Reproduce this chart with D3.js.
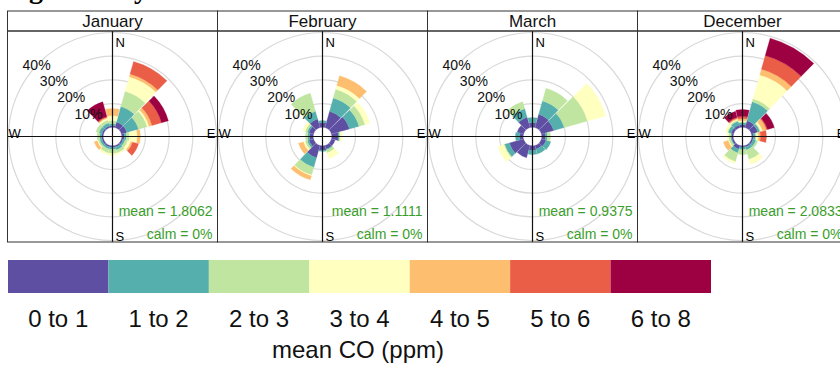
<!DOCTYPE html>
<html>
<head>
<meta charset="utf-8">
<script src="https://cdn.jsdelivr.net/npm/d3@7"></script>
<style>
  body { margin: 0; background: white; }
  text { font-family: "Liberation Sans", Arial, sans-serif; }
</style>
</head>
<body>
<script>
// data, % of hours per direction and CO band
const months = ["January", "February", "March", "December"];
const means = ["1.8062", "1.1111", "0.9375", "2.0833"];
const calms = ["0%", "0%", "0%", "0%"];
const directions = [0, 30, 60, 90, 120, 150, 180, 210, 240, 270, 300, 330];
const coBins = ["0 to 1", "1 to 2", "2 to 3", "3 to 4", "4 to 5", "5 to 6", "6 to 8"];
const gridPct = [10, 20, 30, 40];

const janValues = [
    [0.7, 0.9, 1.2, 2.1, 3.0, 0, 0],
    [2.4, 6.8, 6.7, 6.4, 1.2, 5.5, 0],
    [2.4, 5.1, 3.8, 0.8, 1.3, 4.2, 3.0],
    [1.1, 0.9, 1.3, 3.3, 1.3, 0, 0],
    [0.7, 0.9, 1.2, 1.3, 0.8, 2.6, 0],
    [0.7, 1.3, 1.3, 0.4, 0, 0, 0],
    [0.7, 0.9, 1.7, 0.8, 0, 0, 0],
    [0.7, 0.9, 1.7, 0.8, 0, 0, 0],
    [0.7, 0.9, 0.8, 0.4, 1.3, 0, 0],
    [0.7, 0.9, 1.0, 0, 0, 0, 0],
    [0.7, 1.3, 1.3, 0, 0, 0, 0],
    [0.7, 1.3, 1.3, 0.8, 0.4, 0.4, 6.4]
];
const febValues = [
    [2.0, 0.8, 0, 0, 0, 0, 0],
    [7.1, 5.9, 3.8, 1.7, 4.2, 0, 0],
    [7.9, 4.2, 2.6, 2.1, 0, 0, 0],
    [2.8, 0.5, 0.4, 0.8, 0, 0, 0],
    [1.6, 0, 0, 0, 0, 0, 0],
    [1.6, 0.4, 1.3, 2.5, 0, 0, 0],
    [2.0, 0.4, 0, 0, 0, 0, 0],
    [5.4, 4.2, 3.4, 0.4, 1.7, 0, 0],
    [2.0, 0.8, 0.9, 0.8, 2.1, 0, 0],
    [1.6, 0.8, 0.9, 0, 0, 0, 0],
    [2.0, 0.8, 0.9, 1.2, 0, 0, 0],
    [3.7, 3.4, 8.0, 0, 0, 0, 0]
];
const marValues = [
    [2.0, 2.1, 0, 0, 0, 0, 0],
    [5.8, 5.9, 5.5, 0, 0, 0, 0],
    [5.4, 4.6, 10.2, 8.0, 0, 0, 0],
    [1.6, 0.8, 1.3, 0, 0, 0, 0],
    [2.0, 2.1, 0, 0, 0, 0, 0],
    [1.6, 2.1, 0, 0, 0, 0, 0],
    [2.0, 1.7, 0, 0, 0, 0, 0],
    [5.4, 0, 0, 0, 0, 0, 0],
    [6.2, 2.1, 0.4, 2.6, 0, 0, 0],
    [1.6, 1.7, 0, 0, 0, 0, 0],
    [2.8, 0, 0, 0, 0, 0, 0],
    [4.5, 3.8, 3.0, 0, 0, 0, 0]
];
const decValues = [
    [1.1, 0.9, 0.4, 0.4, 0.9, 0.9, 2.9],
    [3.0, 8.3, 1.3, 10.5, 2.5, 6.0, 7.6],
    [2.8, 0.9, 0.4, 0.8, 1.7, 0.5, 2.9],
    [0.7, 0.9, 0.4, 0.8, 0.9, 2.5, 0],
    [0.7, 1.3, 0.8, 0, 0, 0, 0],
    [0.7, 1.3, 4.2, 2.1, 0, 0, 0],
    [0.5, 1.1, 2.1, 0, 0, 0, 0],
    [1.6, 1.7, 3.8, 0.8, 0, 0, 0],
    [0.7, 0.4, 0.9, 0.4, 2.1, 0, 0],
    [0.7, 0.4, 0.9, 0.8, 0, 0, 0],
    [1.1, 1.3, 0.4, 0.9, 0, 0, 0],
    [1.1, 1.7, 0.5, 0.4, 0.4, 0.4, 2.6]
];
const monthValues = [janValues, febValues, marValues, decValues];

const binColors = ["#5E4FA2", "#55AFAD", "#BFE5A0", "#FFFFBF", "#FDBF6F", "#EA5D47", "#9E0142"];

const width = 840, height = 365;
const svg = d3.select("body").append("svg").attr("width", width).attr("height", height);

const color = d3.scaleOrdinal().domain(coBins).range(binColors);
const r = d3.scaleLinear().domain([0, 40]).range([9.3, 104]);
const rad = deg => deg * Math.PI / 180;
const half = 14.3;
const arc = d3.arc();
const stack = d3.stack().keys(d3.range(coBins.length));

// title, only its descenders are inside the picture
svg.append("text")
    .attr("y", -2)
    .style("font-family", "'Liberation Serif', serif")
    .style("font-weight", "bold")
    .style("font-size", "28px")
    .call(t => {
        t.append("tspan").attr("x", 29).text("g");
        t.append("tspan").attr("x", 134).text("y");
        t.append("tspan").attr("x", 769).text("2");
    });

const pw = 210, ph = 211, panelTop = 31, stripH = 20;

monthValues.forEach((vals, i) => {
    const x0 = 7.5 + i * pw;
    const cx = x0 + pw / 2, cy = panelTop + ph / 2;
    const g = svg.append("g");

    // strip
    g.append("rect").attr("x", x0).attr("y", panelTop - stripH).attr("width", pw).attr("height", stripH)
        .attr("fill", "white").attr("stroke", "#333");
    g.append("text").attr("x", cx).attr("y", panelTop - 4).attr("text-anchor", "middle")
        .style("font-size", "17px").attr("fill", "#111").text(months[i]);

    g.append("clipPath").attr("id", "clip" + i)
        .append("rect").attr("x", x0).attr("y", panelTop).attr("width", pw).attr("height", ph);

    const body = g.append("g").attr("clip-path", "url(#clip" + i + ")");
    const c = body.append("g").attr("transform", 'translate(' + cx + ', ' + cy + ')');

    c.selectAll("circle")
        .data(gridPct)
        .join("circle")
        .attr("r", d => r(d))
        .attr("fill", "none")
        .attr("stroke", "#d9d9d9")
        .attr("stroke-width", 1.2);

    const rows = vals.map((v, j) => Object.assign({ dir: directions[j] }, v));
    const series = stack(rows);
    series.forEach(s => {
        c.append("g").selectAll("path")
            .data(s.filter(d => d[1] - d[0] > 0))
            .join("path")
            .attr("d", d => arc({
                innerRadius: r(d[0]),
                outerRadius: r(d[1]),
                startAngle: rad(d.data.dir - half),
                endAngle: rad(d.data.dir + half)
            }))
            .attr("fill", color(coBins[s.key]))
            .attr("stroke", color(coBins[s.key]))
            .attr("stroke-width", 0.3);
    });

    // axis cross
    c.append("line").attr("x1", -pw / 2).attr("x2", pw / 2).attr("y1", 0).attr("y2", 0)
        .attr("stroke", "#111").attr("stroke-width", 1.2);
    c.append("line").attr("x1", 0).attr("x2", 0).attr("y1", -ph / 2).attr("y2", ph / 2)
        .attr("stroke", "#111").attr("stroke-width", 1.2);

    c.append("text").attr("x", 3).attr("y", -ph / 2 + 16).style("font-size", "13px").text("N");
    c.append("text").attr("x", 3).attr("y", ph / 2 - 1).style("font-size", "13px").text("S");
    c.append("text").attr("x", -pw / 2 + 1).attr("y", 1).style("font-size", "13px").text("W");
    c.append("text").attr("x", pw / 2 - 2).attr("y", 1).attr("text-anchor", "end")
        .style("font-size", "13px").text("E");

    c.selectAll(".pct")
        .data(gridPct)
        .join("text")
        .attr("class", "pct")
        .attr("x", d => -r(d) * 0.73)
        .attr("y", d => -r(d) * 0.69 + 5)
        .attr("text-anchor", "middle")
        .style("font-size", "14px")
        .attr("fill", "#111")
        .text(d => d + "%");

    c.append("text").attr("x", pw / 2 - 5).attr("y", ph / 2 - 26).attr("text-anchor", "end")
        .style("font-size", "14px").attr("fill", "#3a9e2a").text("mean = " + means[i]);
    c.append("text").attr("x", pw / 2 - 5).attr("y", ph / 2 - 3).attr("text-anchor", "end")
        .style("font-size", "14px").attr("fill", "#3a9e2a").text("calm = " + calms[i]);

    g.append("rect").attr("x", x0).attr("y", panelTop).attr("width", pw).attr("height", ph)
        .attr("fill", "none").attr("stroke", "#333");
});

// legend
const lx = d3.scaleBand().domain(coBins).range([8, 711]);
const legend = svg.append("g");
legend.selectAll("rect")
    .data(coBins)
    .join("rect")
    .attr("x", d => lx(d))
    .attr("y", 260)
    .attr("width", lx.bandwidth())
    .attr("height", 33)
    .attr("fill", d => color(d));
legend.selectAll("text")
    .data(coBins)
    .join("text")
    .attr("x", d => lx(d) + lx.bandwidth() / 2)
    .attr("y", 327)
    .attr("text-anchor", "middle")
    .style("font-size", "24px")
    .attr("fill", "#111")
    .text(d => d);
legend.append("text")
    .attr("x", 358)
    .attr("y", 358)
    .attr("text-anchor", "middle")
    .style("font-size", "24px")
    .attr("fill", "#111")
    .text("mean CO (ppm)");
</script>
</body>
</html>
